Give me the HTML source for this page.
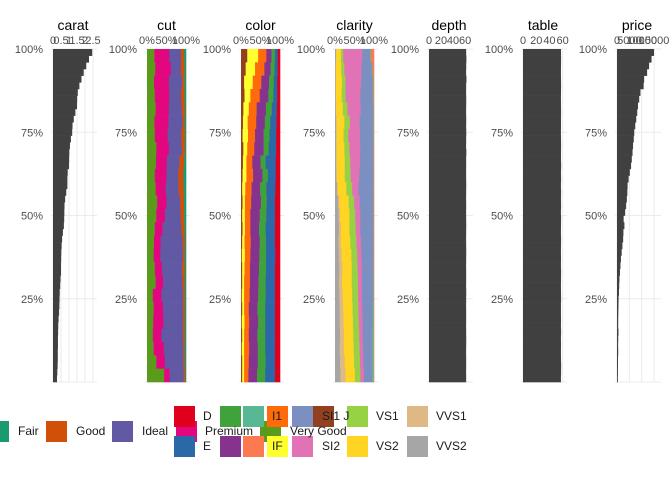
<!DOCTYPE html>
<html><head><meta charset="utf-8">
<style>
body{margin:0;background:#fff;}
svg{display:block;font-family:"Liberation Sans",sans-serif;}
</style></head>
<body>
<svg id="chart" width="672" height="480" viewBox="0 0 672 480"></svg>
<script>
// ---- data ----
const caratValues=[2.45,2.25,2.08,1.92,1.78,1.65,1.55,1.51,1.5,1.4,1.3,1.22,1.2,1.12,1.06,1.02,1.01,1.0,0.92,0.9,0.9,0.83,0.76,0.72,0.71,0.7,0.68,0.62,0.57,0.54,0.52,0.51,0.5,0.5,0.47,0.45,0.42,0.41,0.4,0.38,0.35,0.33,0.32,0.31,0.31,0.3,0.3,0.29,0.27,0.25];
const priceValues=[15000,14000,13000,12200,11000,10800,9500,9000,8500,8200,7800,7400,7000,6800,6500,6300,6000,5700,5200,4700,4300,4200,4000,3700,3300,2700,3000,2600,2500,2200,1900,1600,1400,1200,1000,900,800,650,600,550,500,480,600,500,450,500,420,400,380,350];
const depthValues=[61.8,62.2,61.9,61.7,62.3,61.8,61.7,61.9,61.8,61.7,61.9,61.8,62.0,61.8,61.7,62.1,61.8,61.8,61.7,61.8,61.9,61.8,61.7,61.8,61.7,61.8,61.9,61.8,61.7,61.8,61.9,61.8,61.7,61.8,61.8,61.7,61.9,61.8,61.7,61.8,61.8,61.7,61.8,61.9,61.8,61.7,61.8,61.8,61.7,61.8];
const tableValues=[57.5,57.6,57.5,57.4,57.5,57.6,57.5,57.4,57.5,57.6,57.5,57.5,57.4,57.5,57.6,57.5,57.5,57.7,57.5,57.6,57.4,57.6,57.5,57.6,57.4,57.6,57.5,57.4,57.6,57.5,57.4,57.5,57.4,57.6,57.5,57.4,57.5,57.6,57.4,57.4,57.5,57.4,57.6,57.4,57.5,57.4,57.5,57.7,57.6,57.4];
const cutLevels=["Very Good","Premium","Ideal","Good","Fair"];
const cutRows=[
[19,38,30,8,5],[21,40,26,9,4],[18,38,34,6,4],[20,37,30,9,4],[22,34,33,8,3],[19,36,36,6,3],[20,33,35,9,3],[24,32,33,8,3],[23,28,32,12,5],[20,30,30,13,7],[22,26,33,13,6],[26,24,35,10,5],[24,22,40,9,5],
[20,20,48,8,4],[18,17,56,6,3],[17,17,58,5,3],[20,18,52,7,3],[22,19,50,6,3],[15,22,55,5,3],[17,24,51,5,3],[16,26,50,5,3],[15,22,55,5,3],[17,26,50,4,3],[24,22,47,4,3],[44,14,36,4,2]];
const colorLevels=["J","I","H","G","F","E","D"];
const colorRows=[
[16,28,21,13,9,7,6],[12,24,24,16,10,8,6],[8,22,22,20,12,9,7],[9,15,24,22,13,10,7],[6,14,20,24,15,13,8],[5,12,22,22,14,16,9],[4,14,18,22,15,17,10],[6,10,18,24,13,19,10],[5,9,15,21,13,26,11],[4,10,17,24,14,20,11],
[3,8,16,22,16,23,12],[4,6,16,25,15,21,13],[3,7,14,24,17,22,13],[4,6,14,22,17,24,13],[3,6,16,23,16,23,13],[2,8,14,23,17,24,12],[3,6,14,23,18,23,13],[3,5,15,22,18,24,13],[2,6,14,22,19,24,13],[3,5,12,22,20,25,13],[2,7,12,23,18,25,13],[3,5,12,22,20,25,13],[2,6,13,22,19,25,13],[3,5,12,23,20,24,13],[3,5,11,22,21,25,13]];
const clarityLevels=["VVS2","VVS1","VS2","VS1","SI2","SI1","I1","IF"];
const clarityRows=[
[3,0,12,6,49,20,2,8],[2,0,14,8,44,26,2,4],[2,0,16,9,40,29,2,2],[2,0,15,10,38,31,2,2],[2,1,17,12,34,31,2,1],[3,1,20,14,25,34,2,1],[3,1,18,12,30,33,2,1],[3,1,20,13,28,33,1,1],[3,1,21,14,25,34,1,1],[3,2,20,15,22,36,1,1],
[5,2,22,15,16,38,1,1],[8,3,24,14,14,35,1,1],[9,4,24,15,13,33,1,1],[10,5,22,16,12,33,1,1],[9,6,24,16,12,31,1,1],[10,7,25,15,11,30,1,1],[11,8,24,15,11,29,1,1],[10,8,25,16,10,28,2,1],[11,9,24,15,10,28,2,1],[12,9,24,15,10,26,3,1],[12,10,24,15,10,25,3,1],[13,10,24,15,9,24,4,1],[12,11,25,15,9,23,4,1],[13,12,24,15,9,22,4,1],[14,13,24,14,9,21,4,1]];
const yTickLabels=["100%","75%","50%","25%"];
const pctTickLabels=["0%","50%","100%"];
const caratTicks=[0,0.5,1,1.5,2,2.5];
const depthTicks=[0,20,40,60];
const tableTicks=[0,20,40,60];
const priceTicks=[0,5000,10000,15000];

const palettes={
 cut:{"Very Good":"#5a9b1c","Premium":"#e2077e","Ideal":"#6159a3","Good":"#d24f0a","Fair":"#1b9a72"},
 color:{"J":"#934020","I":"#ffff2e","H":"#ff6a0b","G":"#86338f","F":"#3fa23a","E":"#2b68a8","D":"#e0001e"},
 clarity:{"VVS2":"#a6a6a6","VVS1":"#dfb985","VS2":"#ffd423","VS1":"#97d144","SI2":"#e072b5","SI1":"#7b8fc0","I1":"#58b893","IF":"#fd7a50"}
};

const NS="http://www.w3.org/2000/svg";
const svg=document.getElementById('chart');
function mk(tag,attrs,parent){const e=document.createElementNS(NS,tag);for(const k in attrs)e.setAttribute(k,attrs[k]);(parent||svg).appendChild(e);return e;}
const top0=49,bot0=382,H=bot0-top0;
function yScale(p){return bot0-p*H;}

function panelFrame(name,x0,w,title,yLabelX){
 const g=mk('g',{});
 
 
 for(let i=0;i<5;i++){
  const y=yScale(i/4);
  const l=mk('line',{x1:x0-2,x2:x0+w+4,y1:y,y2:y,stroke:'#ebebeb','stroke-width':1},g);
  
  
 }
 const t=mk('text',{x:x0+w/2,y:30,'text-anchor':'middle','font-size':14,fill:'#000'},g);
 t.textContent=title;
 
 
 yTickLabels.forEach((lab,i)=>{
  const tt=mk('text',{x:yLabelX,y:yScale(1-i*0.25)+4,'text-anchor':'end','font-size':11,fill:'#4d4d4d'},g);
  tt.textContent=lab;
  
  
 });
 return g;
}

function numericPanel(name,x0,w,maxV,values,ticks,yLabelX){
 const g=panelFrame(name,x0,w,name,yLabelX);
 const xs=v=>x0+v/maxV*w;
 ticks.forEach(tv=>{
  const l=mk('line',{x1:xs(tv),x2:xs(tv),y1:top0,y2:bot0,stroke:'#ebebeb','stroke-width':1},g);
  
  
  const tt=mk('text',{x:xs(tv),y:44,'text-anchor':'middle','font-size':11,fill:'#4d4d4d'},g);
  tt.textContent=String(tv);
  
  
 });
 const bh=H/values.length;
 values.forEach((v,i)=>{
  const r=mk('rect',{x:x0,y:top0+i*bh,width:Math.max(0,xs(v)-x0),height:bh+0.3,fill:'#404040'},g);
  
  
 });
}

function catPanel(name,x0,w,levels,rows,yLabelX){
 const g=panelFrame(name,x0,w,name,yLabelX);
 pctTickLabels.forEach((lab,i)=>{
  const tt=mk('text',{x:x0+i*w/2,y:44,'text-anchor':'middle','font-size':11,fill:'#4d4d4d'},g);
  tt.textContent=lab;
  
  
 });
 const bh=H/rows.length;
 rows.forEach((row,i)=>{
  const tot=row.reduce((a,b)=>a+b,0);
  let acc=0;
  row.forEach((v,j)=>{
   const r=mk('rect',{x:x0+acc/tot*w,y:top0+i*bh,width:v/tot*w+0.3,height:bh+0.3,fill:palettes[name][levels[j]]},g);
   
   
   acc+=v;
  });
 });
}

numericPanel('carat',53,40,2.5,caratValues,caratTicks,43);
catPanel('cut',147,39,cutLevels,cutRows,137);
catPanel('color',241,39,colorLevels,colorRows,231);
catPanel('clarity',335,39,clarityLevels,clarityRows,325);
numericPanel('depth',429,40,66.5,depthValues,depthTicks,419);
numericPanel('table',523,40,60.5,tableValues,tableTicks,513);
numericPanel('price',617,40,16200,priceValues,priceTicks,607);

// ---- legend ----
const legendKeys=[
 ["fair",-12,421,"#1b9a72","Fair",18,435],["good",46,421,"#d24f0a","Good",76,435],["ideal",112,421,"#6159a3","Ideal",142,435],
 ["premium",176,421,"#e2077e","Premium",205,435],["very-good",260,421,"#5a9b1c","Very Good",290,435],
 ["d",174,406,"#e0001e","D",203,420],["e",174,436,"#2b68a8","E",203,450],
 ["f",220,406,"#3fa23a","",0,0],["g",220,436,"#86338f","",0,0],
 ["i1",243,406,"#58b893","",0,0],["if",243,436,"#fd7a50","",0,0],
 ["h",267,406,"#ff6a0b","I1",272,420],["i",267,436,"#ffff2e","IF",272,450],
 ["si1",292,406,"#7b8fc0","",0,0],["si2",292,436,"#e072b5","SI2",322,450],
 ["j",313,406,"#934020","SI1 J",322,420],
 ["vs1",347,406,"#97d144","VS1",376,420],["vs2",347,436,"#ffd423","VS2",376,450],
 ["vvs1",407,406,"#dfb985","VVS1",436,420],["vvs2",407,436,"#a6a6a6","VVS2",436,450]
];
const lg=mk('g',{});


legendKeys.forEach(k=>{
 const r=mk('rect',{x:k[1],y:k[2],width:21,height:21,fill:k[3]},lg);
 
 
});
legendKeys.forEach(k=>{
 if(!k[4])return;
 const t=mk('text',{x:k[5],y:k[6],'font-size':12,fill:'#1a1a1a'},lg);
 t.textContent=k[4];
 
 
});
</script>
</body></html>
